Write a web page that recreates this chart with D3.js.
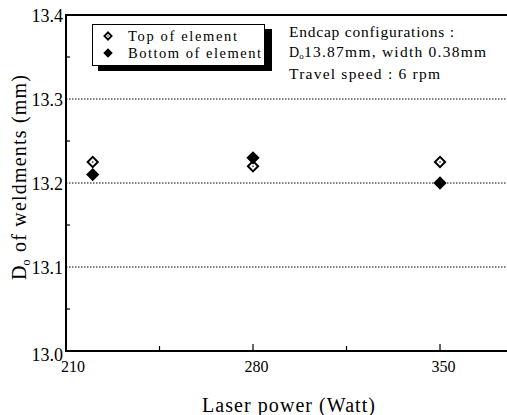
<!DOCTYPE html>
<html><head><meta charset="utf-8">
<script src="https://cdn.jsdelivr.net/npm/d3@7"></script>
<style>
html,body{margin:0;padding:0;background:#fff;}
</style></head>
<body>
<svg id="c" width="507" height="415"></svg>
<script>
const powers = [220, 280, 350];
const topValues = [13.225, 13.22, 13.225];
const bottomValues = [13.21, 13.23, 13.20];
const xTicks = [210, 280, 350];
const yTicks = [13.0, 13.1, 13.2, 13.3, 13.4];
const legendLabels = ["Top of element", "Bottom of element"];
const noteLines = ["Endcap configurations :", "13.87mm, width 0.38mm", "Travel speed : 6 rpm"];

const FONT = "Liberation Serif";
const svg = d3.select("#c").style("font-family", FONT);
const L = 66, T = 15, R = 506, B = 351;
const x = d3.scaleLinear().domain([210, 374.7]).range([L, R]);
const y = d3.scaleLinear().domain([13.0, 13.4]).range([B, T]);

svg.append("g").selectAll("line").data([13.1, 13.2, 13.3]).join("line")
  .attr("x1", L).attr("x2", R + 1).attr("y1", d => y(d)).attr("y2", d => y(d))
  .attr("stroke", "#000").attr("stroke-width", 1).attr("stroke-dasharray", "1.5,1.5");

const yAxis = d3.axisLeft(y).tickValues(yTicks).tickFormat(d3.format(".1f")).tickSize(0).tickPadding(3);
const gy = svg.append("g").attr("transform", `translate(${L},0)`).call(yAxis);
gy.attr("font-family", null);
gy.select(".domain").remove();
gy.selectAll("text").attr("font-size", 18).attr("fill", "#000").style("font-family", FONT)
  .attr("dy", d => d === 13.0 ? "0.55em" : "0.34em");
svg.append("g").selectAll("line").data([13.05, 13.15, 13.25, 13.35]).join("line")
  .attr("x1", L).attr("x2", L + 4).attr("y1", d => y(d)).attr("y2", d => y(d))
  .attr("stroke", "#000").attr("stroke-width", 1.2);

const xAxis = d3.axisBottom(x).tickValues(xTicks).tickFormat(d3.format("d")).tickSize(0).tickPadding(10);
const gx = svg.append("g").attr("transform", `translate(0,${B})`).call(xAxis);
gx.attr("font-family", null);
gx.select(".domain").remove();
gx.selectAll("text").attr("font-size", 16).attr("fill", "#000").style("font-family", FONT)
  .attr("dx", d => d === 210 ? 6.5 : 3).attr("dy", "0.71em");
svg.append("g").selectAll("line").data([245, 280, 315, 350]).join("line")
  .attr("x1", d => x(d)).attr("x2", d => x(d)).attr("y1", B).attr("y2", d => B - ((d === 280 || d === 350) ? 7 : 5))
  .attr("stroke", "#000").attr("stroke-width", 1.2);

svg.append("line").attr("x1", L).attr("x2", L).attr("y1", T).attr("y2", B + 1).attr("stroke", "#000").attr("stroke-width", 2);
svg.append("line").attr("x1", L - 1).attr("x2", R + 1).attr("y1", B).attr("y2", B).attr("stroke", "#000").attr("stroke-width", 2);
svg.append("line").attr("x1", L - 1).attr("x2", R + 1).attr("y1", T).attr("y2", T).attr("stroke", "#000").attr("stroke-width", 2);

const sq = d3.symbol().type(d3.symbolSquare);
const topPts = powers.map((p, i) => [p, topValues[i]]);
const botPts = powers.map((p, i) => [p, bottomValues[i]]);
const gTop = svg.append("g");
gTop.selectAll("path").data(topPts).join("path")
  .attr("d", sq.size(52)())
  .attr("transform", d => `translate(${x(d[0])},${y(d[1])}) rotate(45)`)
  .attr("fill", "#fff").attr("stroke", "#000").attr("stroke-width", 2);
gTop.selectAll("circle").data(topPts).join("circle")
  .attr("cx", d => x(d[0])).attr("cy", d => y(d[1])).attr("r", 0.8).attr("fill", "#000");
svg.append("g").selectAll("path").data(botPts).join("path")
  .attr("d", sq.size(88)())
  .attr("transform", d => `translate(${x(d[0])},${y(d[1])}) rotate(45)`)
  .attr("fill", "#000");

const lg = svg.append("g");
lg.append("rect").attr("x", 98).attr("y", 29).attr("width", 174).attr("height", 42).attr("fill", "#000");
lg.append("rect").attr("x", 92.5).attr("y", 24.5).attr("width", 172).attr("height", 41).attr("fill", "#fff").attr("stroke", "#000").attr("stroke-width", 1);
lg.append("path").attr("d", sq.size(26)()).attr("transform", "translate(108,36) rotate(45)").attr("fill", "#fff").attr("stroke", "#000").attr("stroke-width", 1.8);
lg.append("circle").attr("cx", 108).attr("cy", 36).attr("r", 0.7).attr("fill", "#000");
lg.append("path").attr("d", sq.size(45)()).attr("transform", "translate(108,53) rotate(45)").attr("fill", "#000");
const legendWidths = [109, 133];
lg.selectAll("text").data(legendLabels).join("text")
  .attr("x", 128).attr("y", (d, i) => 41 + i * 16.5).attr("font-size", 14.5)
  .attr("textLength", (d, i) => legendWidths[i]).attr("lengthAdjust", "spacing").text(d => d);

const note = svg.append("g").attr("font-size", 15.5);
note.append("text").attr("x", 289).attr("y", 37).attr("textLength", 165).attr("lengthAdjust", "spacing").text(noteLines[0]);
const t2 = note.append("text").attr("x", 289).attr("y", 57);
t2.append("tspan").attr("font-size", 14).text("D");
t2.append("tspan").attr("font-size", 9).attr("dy", 2).text("o");
t2.append("tspan").attr("x", 304).attr("dy", -2).attr("textLength", 182).attr("lengthAdjust", "spacing").text(noteLines[1]);
note.append("text").attr("x", 289).attr("y", 79).attr("textLength", 151).attr("lengthAdjust", "spacing").text(noteLines[2]);

svg.append("text").attr("x", 202).attr("y", 412).attr("font-size", 20)
  .attr("textLength", 173).attr("lengthAdjust", "spacing").text("Laser power (Watt)");
const yt = svg.append("text").attr("transform", "rotate(-90)").attr("x", -280).attr("y", 26).attr("font-size", 20);
yt.append("tspan").text("D");
yt.append("tspan").attr("font-size", 12).attr("dy", 4).text("o");
yt.append("tspan").attr("x", -252).attr("dy", -4).attr("textLength", 177).attr("lengthAdjust", "spacing").text("of weldments (mm)");
</script>
</body></html>
